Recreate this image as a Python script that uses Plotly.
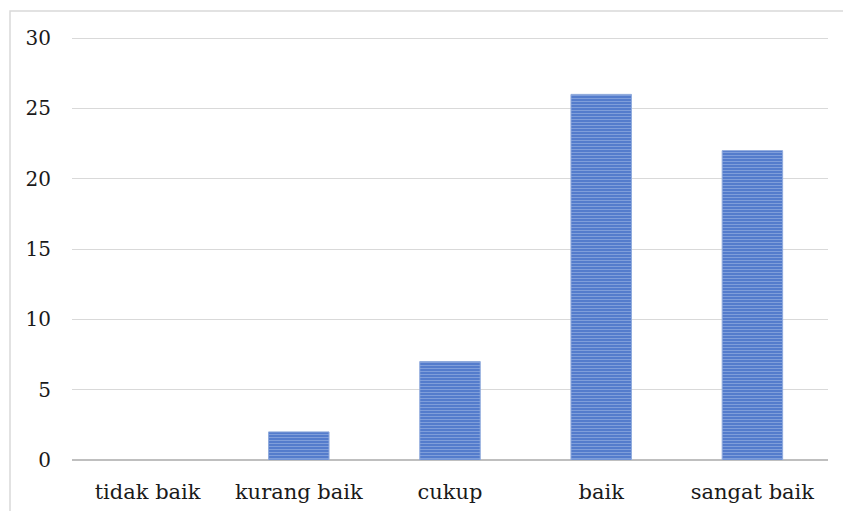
import plotly.graph_objects as go

categories = ["tidak baik", "kurang baik", "cukup", "baik", "sangat baik"]
values = [0, 2, 7, 26, 22]
y_ticks = [0, 5, 10, 15, 20, 25, 30]

fig = go.Figure()
fig.add_trace(go.Bar(
    x=categories, y=values, width=0.4,
    marker=dict(color="#4A74C8",
                line=dict(color="#8FAADC", width=[0 if v == 0 else 1 for v in values]),
                pattern=dict(shape="-", fgcolor="#B4C8EC", bgcolor="#4A74C8",
                             size=3, solidity=0.45)),
))
fig.update_layout(
    width=843, height=511, autosize=False,
    margin=dict(l=72, r=15, t=37, b=51),
    paper_bgcolor="white", plot_bgcolor="white",
    showlegend=False, font=dict(family="DejaVu Serif", size=20, color="#1A1A1A"),
    xaxis=dict(showgrid=False, ticks="", showline=False, ticklabelstandoff=17,
               tickfont=dict(size=21), automargin=False),
    yaxis=dict(range=[0, 30.08], tickvals=y_ticks, showgrid=True, gridcolor="#D9D9D9",
               gridwidth=1, zeroline=True, zerolinecolor="#BFBFBF", zerolinewidth=2,
               ticks="", ticklabelstandoff=20, tickfont=dict(size=20), automargin=False),
    shapes=[dict(type="rect", xref="paper", yref="paper", x0=-0.082, x1=1.05,
                 y0=-0.2, y1=1.0616, line=dict(color="#D9D9D9", width=1.5),
                 fillcolor="rgba(0,0,0,0)", layer="below")],
)
fig.write_html("out.html")
